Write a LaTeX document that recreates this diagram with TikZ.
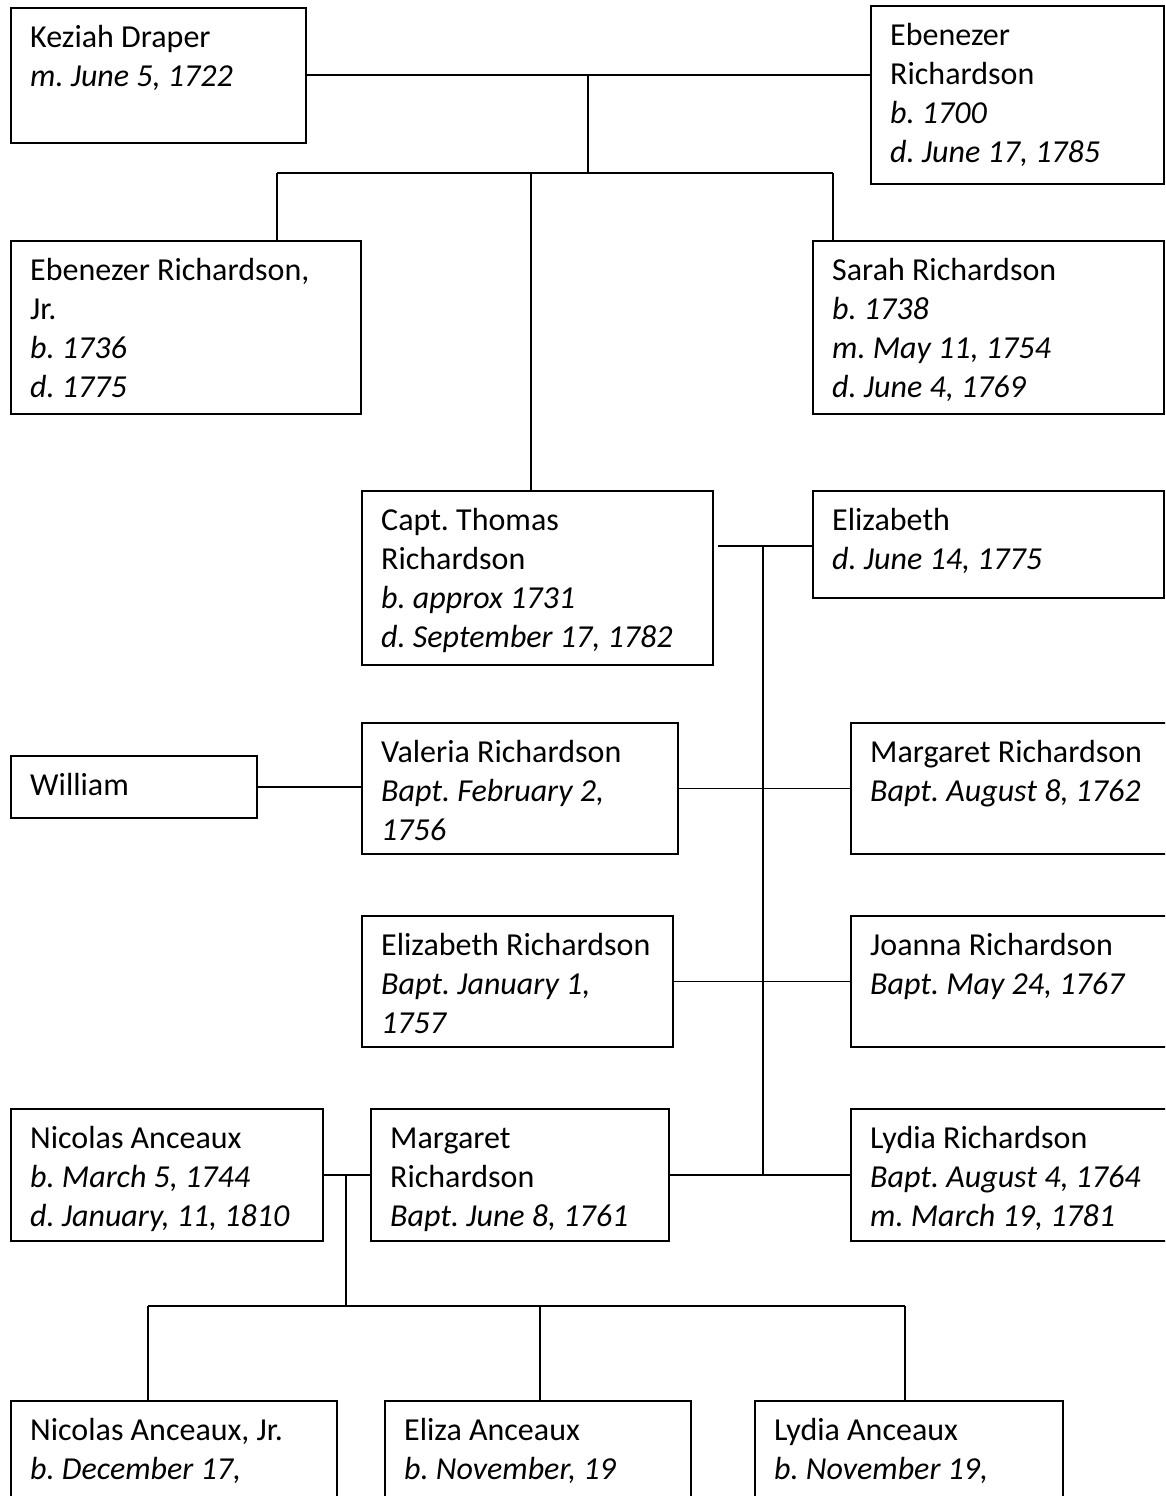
\documentclass[tikz,border=0pt]{standalone}
\usepackage{fontspec}
\setmainfont{Carlito}
\usepackage{tikz}
\usetikzlibrary{calc}
\frenchspacing

% one box per person: name, x, y, width, height, text
\newcommand{\person}[6]{%
    \node[personbox, minimum width=#4pt, minimum height=#5pt] (#1) at (#2,#3) {};
    \node[txt] (#1-t) at ([shift={(20,12.7)}]#1.north west) {\strut#6};}

\tikzset{
    personbox/.style={draw, line width=1.8pt, rectangle, anchor=north west, inner sep=0pt},
    txt/.style={anchor=north west, align=left, inner sep=0pt,
        font=\fontsize{32}{39}\selectfont},
    link/.style={line width=1.7pt},
}

\begin{document}
\begin{tikzpicture}[x=1pt, y=-1pt]
    \useasboundingbox (0,0) rectangle (1165,1496);
    \clip (0,0) rectangle (1165,1496);

    \person{keziah}{10}{7}{295}{135}{Keziah Draper\\\textit{m. June 5, 1722}}
    \person{ebenezer}{870}{5}{293}{178}{Ebenezer\\Richardson\\\textit{b. 1700}\\\textit{d. June 17, 1785}}

    \person{ebjr}{10}{240}{350}{173}{Ebenezer Richardson,\\Jr.\\\textit{b. 1736}\\\textit{d. 1775}}
    \person{sarah}{812}{240}{351}{173}{Sarah Richardson\\\textit{b. 1738}\\\textit{m. May 11, 1754}\\\textit{d. June 4, 1769}}

    \person{thomas}{361}{490}{351}{174}{Capt. Thomas\\Richardson\\\textit{b. approx 1731}\\\textit{d. September 17, 1782}}
    \person{eliz}{812}{490}{351}{107}{Elizabeth\\\textit{d. June 14, 1775}}

    \person{william}{10}{755}{246}{62}{William}
    \person{valeria}{361}{722}{316}{131}{Valeria Richardson\\\textit{Bapt. February 2,}\\\textit{1756}}
    \person{margr}{850}{722}{340}{131}{Margaret Richardson\\\textit{Bapt. August 8, 1762}}

    \person{elizr}{361}{915}{311}{131}{Elizabeth Richardson\\\textit{Bapt. January 1,}\\\textit{1757}}
    \person{joanna}{850}{915}{340}{131}{Joanna Richardson\\\textit{Bapt. May 24, 1767}}

    \person{nicolas}{10}{1108}{312}{132}{Nicolas Anceaux\\\textit{b. March 5, 1744}\\\textit{d. January, 11, 1810}}
    \person{margl}{370}{1108}{298}{132}{Margaret\\Richardson\\\textit{Bapt. June 8, 1761}}
    \person{lydiar}{850}{1108}{340}{132}{Lydia Richardson\\\textit{Bapt. August 4, 1764}\\\textit{m. March 19, 1781}}

    \person{nicjr}{10}{1400}{326}{150}{Nicolas Anceaux, Jr.\\\textit{b. December 17,}}
    \person{eliza}{384}{1400}{306}{150}{Eliza Anceaux\\\textit{b. November, 19}}
    \person{lydiaa}{754}{1400}{308}{150}{Lydia Anceaux\\\textit{b. November 19,}}

    % first generation
    \coordinate (kj) at (588,75);
    \coordinate (kb) at (588,173);
    \coordinate (d1) at (277,173);
    \coordinate (d2) at (531,173);
    \coordinate (d3) at (833,173);
    \draw[link] (keziah.east |- kj) -- (ebenezer.west |- kj);
    \draw[link] (kj) -- (kb);
    \draw[link] (d1) -- (d3);
    \draw[link] (d1) -- (d1 |- ebjr.north);
    \draw[link] (d2) -- (d2 |- thomas.north);
    \draw[link] (d3) -- (d3 |- sarah.north);

    % Thomas and Elizabeth
    \coordinate (tj) at (763,546);
    \coordinate (tb) at (763,1175);
    \draw[link] ([xshift=4pt]thomas.east |- tj) -- (eliz.west |- tj);
    \draw[link] (tj) -- (tb);
    \draw[link] (valeria.east) -- (margr.west |- valeria.east);
    \draw[link] (elizr.east) -- (joanna.west |- elizr.east);
    \draw[link] (margl.east) -- (lydiar.west |- margl.east);
    \draw[link] (william.east) -- (valeria.west |- william.east);

    % Nicolas and Margaret
    \coordinate (nj) at (346,1175);
    \coordinate (nb) at (346,1306);
    \coordinate (e1) at (148,1306);
    \coordinate (e2) at (540,1306);
    \coordinate (e3) at (905,1306);
    \draw[link] (nicolas.east |- nj) -- (margl.west |- nj);
    \draw[link] (nj) -- (nb);
    \draw[link] (e1) -- (e3);
    \draw[link] (e1) -- (e1 |- nicjr.north);
    \draw[link] (e2) -- (e2 |- eliza.north);
    \draw[link] (e3) -- (e3 |- lydiaa.north);
\end{tikzpicture}
\end{document}
